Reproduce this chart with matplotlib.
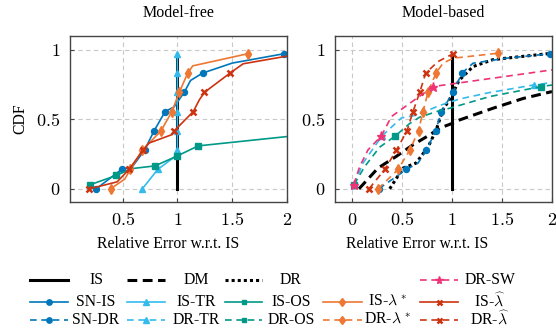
import matplotlib
matplotlib.use("Agg")
import matplotlib.pyplot as plt
from matplotlib.lines import Line2D

plt.rcParams['font.family'] = ['Liberation Serif', 'DejaVu Serif']
plt.rcParams['mathtext.fontset'] = 'cm'

# Colores
azul = '#0077BB'
cian = '#33BBEE'
verde = '#009988'
naranja = '#EE7733'
rojo = '#CC3311'
rosa = '#EE3377'

# IS (igual en ambos paneles)
is_x = [1.0, 1.0]
is_y = [0.0, 0.972]

# ---- Model-free ----
mf_snis_x = [0.26, 0.49, 0.59, 0.70, 0.787, 0.888, 0.97, 1.062, 1.12, 1.23, 1.50, 1.97]
mf_snis_y = [0.0, 0.139, 0.16, 0.278, 0.417, 0.556, 0.59, 0.694, 0.78, 0.833, 0.905, 0.972]
mf_snis_m = [0, 1, 3, 4, 5, 7, 9, 11]

mf_istr_x = [0.68, 0.82, 1.0, 1.0, 1.0, 1.0, 1.0, 1.0, 1.0]
mf_istr_y = [0.0, 0.139, 0.245, 0.278, 0.417, 0.556, 0.694, 0.833, 0.972]
mf_istr_m = [0, 1, 3, 4, 5, 6, 7, 8]

mf_isos_x = [0.206, 0.442, 0.58, 0.796, 1.0, 1.19, 2.0]
mf_isos_y = [0.03, 0.096, 0.145, 0.165, 0.237, 0.309, 0.376]
mf_isos_m = [0, 1, 3, 4, 5]

mf_isls_x = [0.39, 0.52, 0.57, 0.68, 0.85, 0.95, 1.017, 1.094, 1.14, 1.64]
mf_isls_y = [0.0, 0.07, 0.139, 0.278, 0.417, 0.556, 0.694, 0.833, 0.885, 0.972]
mf_isls_m = [0, 2, 3, 4, 5, 6, 7, 9]

mf_islh_x = [0.197, 0.45, 0.558, 0.686, 0.74, 0.95, 0.971, 1.145, 1.2, 1.246, 1.48, 1.6, 2.0]
mf_islh_y = [0.0, 0.05, 0.139, 0.278, 0.329, 0.39, 0.417, 0.556, 0.64, 0.694, 0.833, 0.9, 0.955]
mf_islh_m = [0, 2, 3, 6, 7, 9, 10]

# ---- Model-based ----
mb_dm_x = [0.07, 0.26, 0.444, 0.61, 0.777, 0.877, 1.01, 1.077, 1.41, 1.71, 2.0]
mb_dm_y = [0.0, 0.149, 0.234, 0.317, 0.388, 0.437, 0.473, 0.496, 0.58, 0.65, 0.70]

mb_dr_x = [0.377, 0.51, 0.64, 0.76, 0.84, 0.91, 0.99, 1.07, 1.21, 1.41, 2.0]
mb_dr_y = [0.0, 0.149, 0.185, 0.30, 0.42, 0.57, 0.66, 0.78, 0.88, 0.93, 0.976]

mb_sndr_x = [0.267, 0.544, 0.66, 0.744, 0.837, 0.894, 1.01, 1.10, 1.21, 1.54, 1.98]
mb_sndr_y = [0.0, 0.139, 0.185, 0.278, 0.417, 0.556, 0.694, 0.833, 0.904, 0.94, 0.972]
mb_sndr_m = [0, 1, 3, 4, 5, 6, 7, 10]

mb_drtr_x = [0.02, 0.11, 0.30, 0.494, 0.64, 0.877, 1.077, 1.377, 1.82, 2.0]
mb_drtr_y = [0.03, 0.185, 0.381, 0.51, 0.53, 0.60, 0.647, 0.693, 0.748, 0.765]
mb_drtr_m = [0, 2, 8]

mb_dros_x = [0.02, 0.127, 0.277, 0.434, 0.577, 0.677, 0.877, 0.977, 1.377, 1.894, 2.0]
mb_dros_y = [0.03, 0.16, 0.30, 0.381, 0.47, 0.516, 0.563, 0.58, 0.664, 0.736, 0.747]
mb_dros_m = [0, 3, 9]

mb_drls_x = [0.26, 0.46, 0.577, 0.665, 0.71, 0.76, 0.84, 0.91, 1.01, 1.46]
mb_drls_y = [0.0, 0.139, 0.278, 0.417, 0.556, 0.694, 0.833, 0.904, 0.94, 0.976]
mb_drls_m = [0, 1, 2, 3, 4, 5, 6, 9]

mb_drlh_x = [0.17, 0.327, 0.444, 0.55, 0.61, 0.677, 0.737, 0.86, 1.01]
mb_drlh_y = [0.0, 0.139, 0.278, 0.417, 0.556, 0.694, 0.833, 0.916, 0.972]
mb_drlh_m = [0, 1, 2, 3, 4, 5, 6, 8]

mb_drsw_x = [0.017, 0.077, 0.16, 0.294, 0.394, 0.81, 2.0]
mb_drsw_y = [0.03, 0.16, 0.28, 0.381, 0.52, 0.736, 0.856]
mb_drsw_m = [0, 3, 5]

xticks = [0.5, 1, 1.5, 2]
xticks_mb = [0, 0.5, 1, 1.5, 2]
yticks = [0, 0.5, 1]

# Estilos
dash_c = (0, (4, 2.8))
dash_k = (0, (3.2, 1.8))
dot_k = (0, (1, 1))
lw = 1.2

estilos = {
    'IS': dict(color='black', ls='-', lw=2.2, marker=None),
    'DM': dict(color='black', ls=dash_k, lw=2.2, marker=None),
    'DR': dict(color='black', ls=dot_k, lw=2.2, marker=None),
    'SN-IS': dict(color=azul, ls='-', lw=lw, marker='o', ms=4.3),
    'IS-TR': dict(color=cian, ls='-', lw=lw, marker='^', ms=4.5),
    'IS-OS': dict(color=verde, ls='-', lw=lw, marker='s', ms=3.8),
    r'IS-$\lambda^*$': dict(color=naranja, ls='-', lw=lw, marker='d', ms=4.8),
    r'IS-$\widehat{\lambda}$': dict(color=rojo, ls='-', lw=lw, marker='x', ms=4, mew=1.8),
    'SN-DR': dict(color=azul, ls=dash_c, lw=lw, marker='o', ms=4.3),
    'DR-TR': dict(color=cian, ls=dash_c, lw=lw, marker='^', ms=4.5),
    'DR-OS': dict(color=verde, ls=dash_c, lw=lw, marker='s', ms=3.8),
    r'DR-$\lambda^*$': dict(color=naranja, ls=dash_c, lw=lw, marker='d', ms=4.8),
    r'DR-$\widehat{\lambda}$': dict(color=rojo, ls=dash_c, lw=lw, marker='x', ms=4, mew=1.8),
    'DR-SW': dict(color=rosa, ls=dash_c, lw=lw, marker='*', ms=6.5),
}


def curva(ax, x, y, nombre, marcas=None):
    st = dict(estilos[nombre])
    if st.get('marker') is None:
        st.pop('marker')
        ax.plot(x, y, **st)
    else:
        ax.plot(x, y, markevery=marcas, **st)


W, H = 556, 332
fig = plt.figure(figsize=(W / 100, H / 100), dpi=100)
ax1 = fig.add_axes([70 / W, 1 - 202 / H, 217 / W, 166 / H])
ax2 = fig.add_axes([335 / W, 1 - 202 / H, 217 / W, 166 / H])

curva(ax1, is_x, is_y, 'IS')
curva(ax1, mf_snis_x, mf_snis_y, 'SN-IS', mf_snis_m)
curva(ax1, mf_istr_x, mf_istr_y, 'IS-TR', mf_istr_m)
curva(ax1, mf_isos_x, mf_isos_y, 'IS-OS', mf_isos_m)
curva(ax1, mf_isls_x, mf_isls_y, r'IS-$\lambda^*$', mf_isls_m)
curva(ax1, mf_islh_x, mf_islh_y, r'IS-$\widehat{\lambda}$', mf_islh_m)

curva(ax2, is_x, is_y, 'IS')
curva(ax2, mb_dm_x, mb_dm_y, 'DM')
curva(ax2, mb_dr_x, mb_dr_y, 'DR')
curva(ax2, mb_sndr_x, mb_sndr_y, 'SN-DR', mb_sndr_m)
curva(ax2, mb_drtr_x, mb_drtr_y, 'DR-TR', mb_drtr_m)
curva(ax2, mb_dros_x, mb_dros_y, 'DR-OS', mb_dros_m)
curva(ax2, mb_drls_x, mb_drls_y, r'DR-$\lambda^*$', mb_drls_m)
curva(ax2, mb_drlh_x, mb_drlh_y, r'DR-$\widehat{\lambda}$', mb_drlh_m)
curva(ax2, mb_drsw_x, mb_drsw_y, 'DR-SW', mb_drsw_m)

for ax, xt, xl, titulo, lx in [(ax1, xticks, (0.02, 2.0), 'Model-free', 0.452),
                               (ax2, xticks_mb, (-0.17, 2.0), 'Model-based', 0.377)]:
    ax.set_xlim(*xl)
    ax.set_ylim(-0.095, 1.1)
    ax.set_xticks(xt)
    ax.set_xticklabels(['$%g$' % t for t in xt], fontsize=13)
    ax.set_yticks(yticks)
    ax.set_yticklabels(['$%g$' % t for t in yticks], fontsize=13)
    ax.tick_params(direction='in', length=3, color='#444444', pad=7)
    ax.grid(True, color='#c8c8c8', ls=(0, (4, 3)), lw=0.8)
    ax.set_axisbelow(True)
    for s in ax.spines.values():
        s.set_color('#444444')
        s.set_linewidth(1.0)
    ax.text(0.5, 1.139, titulo, transform=ax.transAxes, ha='center', va='center', fontsize=11.5)
    ax.set_xlabel('Relative Error w.r.t. IS', fontsize=11.3)
    ax.xaxis.set_label_coords(lx, -0.253)
    ax.xaxis.label.set_va('center')

ax1.set_ylabel('CDF', fontsize=11.3)
ax1.yaxis.set_label_coords(-0.23, 0.5)
ax1.yaxis.label.set_va('center')

# Leyenda dibujada a mano (texto centrado en cada celda)
filas = [280, 301.5, 320]
columnas = [(30, 68, 96), (127, 165, 196), (225, 262, 291), (323, 362, 387), (420, 458, 490)]
entradas = [
    ['IS', 'DM', 'DR', None, 'DR-SW'],
    ['SN-IS', 'IS-TR', 'IS-OS', r'IS-$\lambda^*$', r'IS-$\widehat{\lambda}$'],
    ['SN-DR', 'DR-TR', 'DR-OS', r'DR-$\lambda^*$', r'DR-$\widehat{\lambda}$'],
]
for fila, yp in zip(entradas, filas):
    for nombre, (x0, x1, cx) in zip(fila, columnas):
        if nombre is None:
            continue
        st = dict(estilos[nombre])
        mk = st.pop('marker')
        ms = st.pop('ms', None)
        mew = st.pop('mew', None)
        y = 1 - yp / H
        fig.add_artist(Line2D([x0 / W, x1 / W], [y, y], transform=fig.transFigure, **st))
        if mk is not None:
            fig.add_artist(Line2D([(x0 + x1) / 2 / W], [y], transform=fig.transFigure,
                                  marker=mk, ms=ms * 0.9, mew=mew if mew else 1.0,
                                  color=st['color'], ls='none'))
        fig.text(cx / W, y, nombre, ha='center', va='center', fontsize=11.3)

fig.savefig('out.png', dpi=100)
